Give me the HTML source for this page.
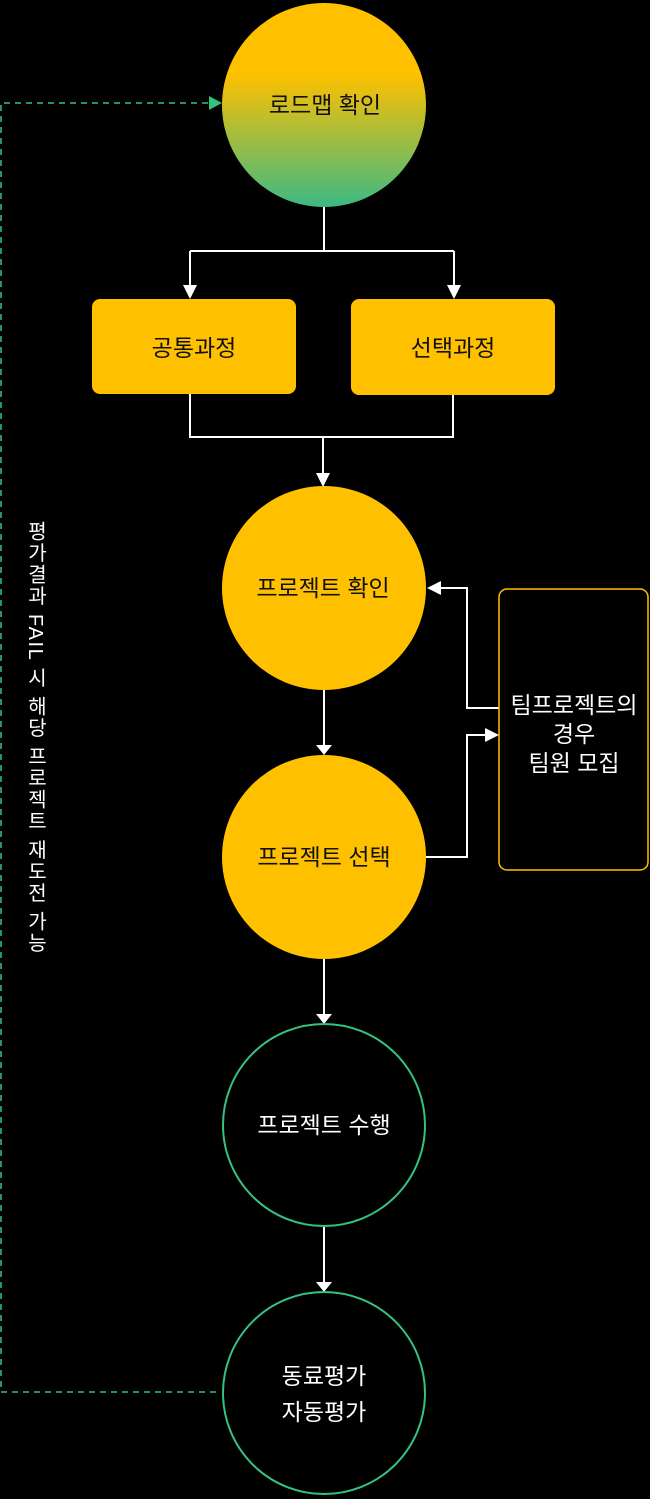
<!DOCTYPE html>
<html><head><meta charset="utf-8"><style>
html,body{margin:0;padding:0;background:#000;width:650px;height:1499px;overflow:hidden}
svg{display:block}
text{font-family:"Liberation Sans","Noto Sans CJK KR",sans-serif;font-size:23px}
.vt{position:absolute;left:24px;top:521px;writing-mode:vertical-rl;font-family:"Liberation Sans","Noto Sans CJK KR",sans-serif;font-size:20px;color:#fff;line-height:22px;letter-spacing:1.5px}
</style></head><body>
<svg width="650" height="1499" viewBox="0 0 650 1499">
<defs>
<linearGradient id="g" x1="0" y1="0" x2="0" y2="1">
<stop offset="0.35" stop-color="#ffc000"/>
<stop offset="1" stop-color="#3cb983"/>
</linearGradient>
</defs>
<path d="M216,1392 H1 V103 H210" fill="none" stroke="#33c37f" stroke-width="1.5" stroke-dasharray="6,5"/>
<polygon points="209,96 222,103 209,110" fill="#33c37f"/>
<g stroke="#fff" stroke-width="2" fill="none">
<path d="M324,207 V251 M190,251 H454 M190,251 V286 M454,251 V286"/>
<path d="M190,394 V437 H453 V394 M323,437 V473"/>
<path d="M499,708 H467 V588 H440"/>
<path d="M426,857 H467 V735 H486"/>
<path d="M324,690 V746 M324,959 V1015 M324,1227 V1283"/>
</g>
<g fill="#fff">
<polygon points="183,285 197,285 190,299"/>
<polygon points="447,285 461,285 454,299"/>
<polygon points="316,473 330,473 323,487"/>
<polygon points="441,581 441,595 427,588"/>
<polygon points="485,728 485,742 499,735"/>
<polygon points="316,745 332,745 324,755"/>
<polygon points="316,1014 332,1014 324,1024"/>
<polygon points="316,1282 332,1282 324,1292"/>
</g>
<circle cx="324" cy="105" r="102" fill="url(#g)"/>
<text x="325" y="113" text-anchor="middle" fill="#111">로드맵 확인</text>
<rect x="92" y="299" width="204" height="95" rx="8" fill="#ffc000"/>
<text x="194" y="356" text-anchor="middle" fill="#111">공통과정</text>
<rect x="351" y="299" width="204" height="96" rx="8" fill="#ffc000"/>
<text x="453" y="356" text-anchor="middle" fill="#111">선택과정</text>
<circle cx="324" cy="588" r="102" fill="#ffc000"/>
<text x="323" y="596" text-anchor="middle" fill="#111">프로젝트 확인</text>
<circle cx="324" cy="857" r="102" fill="#ffc000"/>
<text x="324" y="865" text-anchor="middle" fill="#111">프로젝트 선택</text>
<circle cx="324" cy="1125" r="101" fill="none" stroke="#33c37f" stroke-width="2"/>
<text x="324" y="1133" text-anchor="middle" fill="#fff">프로젝트 수행</text>
<circle cx="324" cy="1393" r="101" fill="none" stroke="#33c37f" stroke-width="2"/>
<text x="324" y="1384" text-anchor="middle" fill="#fff">동료평가</text>
<text x="324" y="1420" text-anchor="middle" fill="#fff">자동평가</text>
<rect x="499" y="589" width="149" height="281" rx="8" fill="none" stroke="#ffc000" stroke-width="1.5"/>
<text x="574" y="713" text-anchor="middle" fill="#fff">팀프로젝트의</text>
<text x="574" y="742" text-anchor="middle" fill="#fff">경우</text>
<text x="574" y="771" text-anchor="middle" fill="#fff">팀원 모집</text>
</svg>
<div class="vt">평가결과 FAIL 시 해당 프로젝트 재도전 가능</div>
</body></html>
